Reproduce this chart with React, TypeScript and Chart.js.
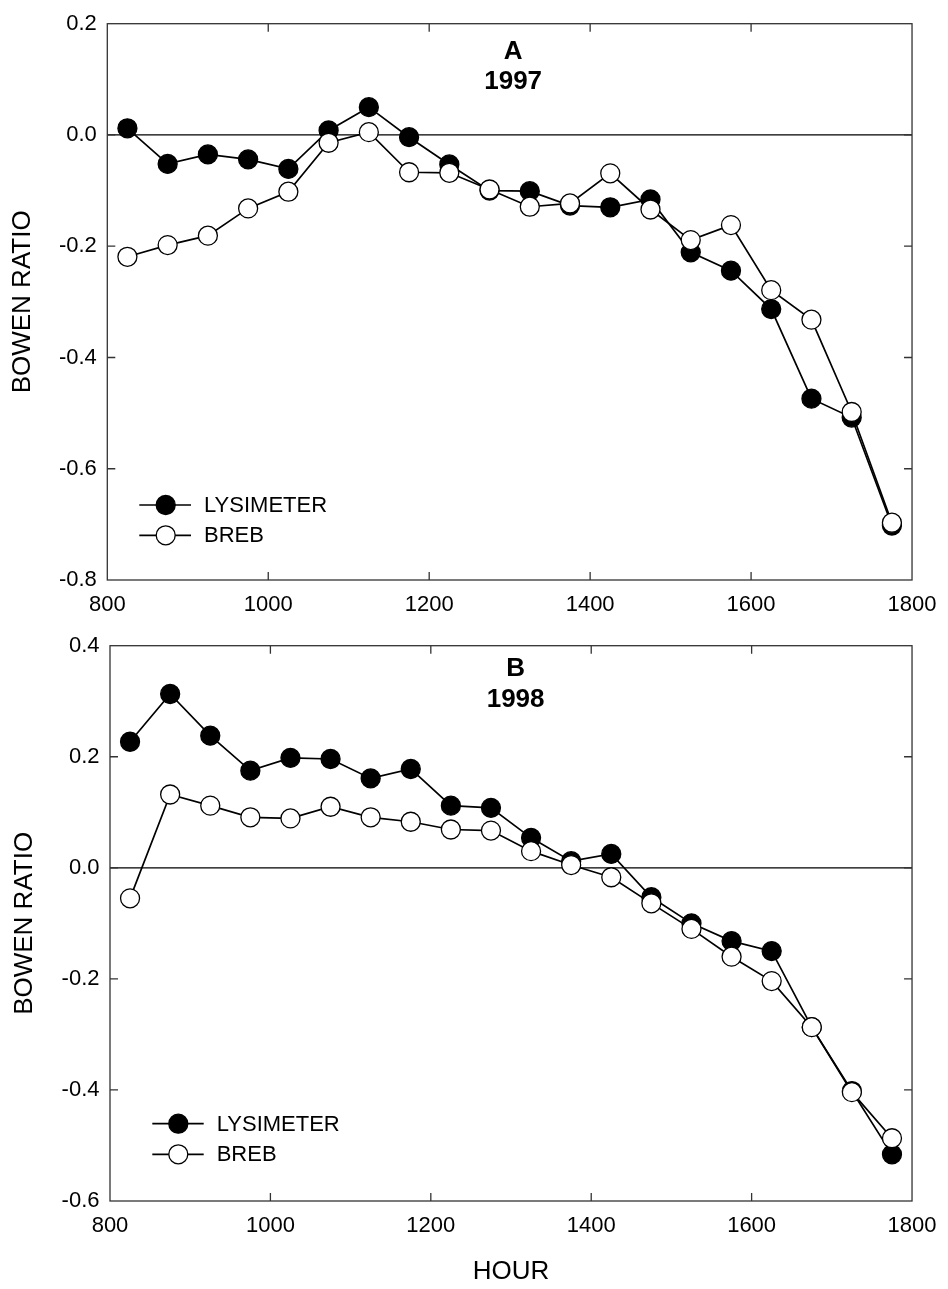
import React, { useEffect, useRef } from "react";
import { Chart, registerables } from "chart.js";

Chart.register(...registerables);

// Half-hourly midpoints (hhmm)
const hours = [825, 875, 925, 975, 1025, 1075, 1125, 1175, 1225, 1275, 1325, 1375, 1425, 1475, 1525, 1575, 1625, 1675, 1725, 1775];

// 1997 Bowen ratio
const lysimeter1997 = [0.012, -0.052, -0.035, -0.044, -0.061, 0.008, 0.05, -0.004, -0.053, -0.1, -0.101, -0.127, -0.13, -0.116, -0.211, -0.244, -0.313, -0.474, -0.508, -0.702];
const breb1997 = [-0.219, -0.198, -0.181, -0.132, -0.102, -0.014, 0.005, -0.067, -0.068, -0.098, -0.129, -0.123, -0.069, -0.134, -0.189, -0.162, -0.279, -0.332, -0.498, -0.697];

// 1998 Bowen ratio
const lysimeter1998 = [0.227, 0.313, 0.238, 0.175, 0.198, 0.196, 0.161, 0.178, 0.112, 0.108, 0.054, 0.012, 0.025, -0.053, -0.1, -0.132, -0.15, -0.287, -0.402, -0.516];
const breb1998 = [-0.055, 0.132, 0.112, 0.091, 0.089, 0.11, 0.091, 0.083, 0.069, 0.067, 0.03, 0.005, -0.017, -0.064, -0.11, -0.16, -0.204, -0.287, -0.404, -0.487];

const hourTicks = [800, 1000, 1200, 1400, 1600, 1800];
const ratioTicks1997 = [-0.8, -0.6, -0.4, -0.2, 0.0, 0.2];
const ratioTicks1998 = [-0.6, -0.4, -0.2, 0.0, 0.2, 0.4];
const seriesNames = ["LYSIMETER", "BREB"];
const panelLetters = ["A", "B"];
const panelYears = ["1997", "1998"];
const yTitle = "BOWEN RATIO";
const xTitle = "HOUR";

const FONT = "'Liberation Sans', Arial, Helvetica, sans-serif";

type Panel = {
  letter: string;
  year: string;
  lys: number[];
  breb: number[];
  yTicks: number[];
  canvasTop: number;
  canvasHeight: number;
  plot: { left: number; top: number; right: number; bottom: number };
  yTitlePad: number;
  showXTitle: boolean;
  labelDx: number;
  labelDy: [number, number];
  legend: { lineStart: number; lineEnd: number; marker: number; text: number; rows: [number, number] };
};

const panels: Panel[] = [
  {
    letter: panelLetters[0],
    year: panelYears[0],
    lys: lysimeter1997,
    breb: breb1997,
    yTicks: ratioTicks1997,
    canvasTop: 0,
    canvasHeight: 622,
    plot: { left: 107.3, top: 13.7, right: 917.7, bottom: 580 },
    yTitlePad: 7.7,
    showXTitle: false,
    labelDx: 3.5,
    labelDy: [28, 58],
    legend: { lineStart: 32, lineEnd: 83.7, marker: 58.4, text: 96.7, rows: [75, 44.7] },
  },
  {
    letter: panelLetters[1],
    year: panelYears[1],
    lys: lysimeter1998,
    breb: breb1998,
    yTicks: ratioTicks1998,
    canvasTop: 622,
    canvasHeight: 667,
    plot: { left: 110, top: 13.3, right: 920.3, bottom: 579 },
    yTitlePad: 9.4,
    showXTitle: true,
    labelDx: 4.6,
    labelDy: [22.7, 54.2],
    legend: { lineStart: 42.3, lineEnd: 93.7, marker: 68.3, text: 106.7, rows: [77.3, 46.7] },
  },
];

function BowenPanel({ panel }: { panel: Panel }) {
  const ref = useRef<HTMLCanvasElement>(null);

  useEffect(() => {
    const canvas = ref.current;
    if (!canvas) return;
    const W = 948;
    const H = panel.canvasHeight;
    const p = panel.plot;

    const decorations = {
      id: "bowenDecorations",
      beforeDatasetsDraw(chart: any) {
        const { ctx, chartArea: a, scales } = chart;
        const xs = scales.x;
        const ys = scales.y;
        ctx.save();
        // zero reference line
        const y0 = ys.getPixelForValue(0);
        ctx.strokeStyle = "#000";
        ctx.lineWidth = 1.3;
        ctx.beginPath();
        ctx.moveTo(a.left, y0);
        ctx.lineTo(a.right, y0);
        ctx.stroke();
        // box frame
        ctx.strokeStyle = "#333";
        ctx.lineWidth = 1.3;
        ctx.strokeRect(a.left, a.top, a.right - a.left, a.bottom - a.top);
        // inward tick marks on all four sides
        const len = 8;
        ctx.beginPath();
        xs.ticks.forEach((t: any) => {
          if (t.value <= xs.min || t.value >= xs.max) return;
          const px = xs.getPixelForValue(t.value);
          ctx.moveTo(px, a.bottom);
          ctx.lineTo(px, a.bottom - len);
          ctx.moveTo(px, a.top);
          ctx.lineTo(px, a.top + len);
        });
        ys.ticks.forEach((t: any) => {
          if (t.value <= ys.min || t.value >= ys.max) return;
          const py = ys.getPixelForValue(t.value);
          ctx.moveTo(a.left, py);
          ctx.lineTo(a.left + len, py);
          ctx.moveTo(a.right, py);
          ctx.lineTo(a.right - len, py);
        });
        ctx.stroke();
        ctx.restore();
      },
      afterDraw(chart: any) {
        const { ctx, chartArea: a } = chart;
        ctx.save();
        // panel label
        ctx.fillStyle = "#000";
        ctx.textAlign = "center";
        ctx.textBaseline = "middle";
        ctx.font = `bold 26px ${FONT}`;
        const cx = (a.left + a.right) / 2 + panel.labelDx;
        ctx.fillText(panel.letter, cx, a.top + panel.labelDy[0]);
        ctx.fillText(panel.year, cx, a.top + panel.labelDy[1]);
        // legend
        const lg = panel.legend;
        chart.data.datasets.forEach((ds: any, i: number) => {
          const y = a.bottom - lg.rows[i];
          ctx.strokeStyle = ds.borderColor;
          ctx.lineWidth = ds.borderWidth;
          ctx.beginPath();
          ctx.moveTo(a.left + lg.lineStart, y);
          ctx.lineTo(a.left + lg.lineEnd, y);
          ctx.stroke();
          ctx.beginPath();
          ctx.arc(a.left + lg.marker, y, ds.pointRadius, 0, Math.PI * 2);
          ctx.fillStyle = ds.pointBackgroundColor;
          ctx.fill();
          ctx.lineWidth = ds.pointBorderWidth;
          ctx.strokeStyle = ds.pointBorderColor;
          ctx.stroke();
          ctx.fillStyle = "#000";
          ctx.textAlign = "left";
          ctx.textBaseline = "middle";
          ctx.font = `22px ${FONT}`;
          ctx.fillText(ds.label, a.left + lg.text, y + 1);
        });
        ctx.restore();
      },
    };

    const common = {
      borderColor: "#000",
      borderWidth: 1.7,
      pointBorderColor: "#000",
      pointBorderWidth: 1.3,
      pointRadius: 9.5,
      pointHoverRadius: 9.5,
      tension: 0,
      fill: false,
    };

    const chart = new Chart(canvas, {
      type: "line",
      data: {
        datasets: [
          {
            ...common,
            label: seriesNames[0],
            data: hours.map((h, i) => ({ x: h, y: panel.lys[i] })),
            backgroundColor: "#000",
            pointBackgroundColor: "#000",
            order: 2,
          },
          {
            ...common,
            label: seriesNames[1],
            data: hours.map((h, i) => ({ x: h, y: panel.breb[i] })),
            backgroundColor: "#fff",
            pointBackgroundColor: "#fff",
            order: 1,
          },
        ],
      },
      options: {
        responsive: false,
        animation: false,
        devicePixelRatio: 1,
        events: [],
        layout: { padding: { top: p.top, right: W - p.right, left: 0, bottom: 0 } },
        plugins: { legend: { display: false }, tooltip: { enabled: false }, title: { display: false } },
        scales: {
          x: {
            type: "linear",
            min: 800,
            max: 1800,
            afterBuildTicks: (s: any) => {
              s.ticks = hourTicks.map((v) => ({ value: v }));
            },
            afterFit: (s: any) => {
              s.height = H - p.bottom;
            },
            grid: { display: false, drawTicks: false },
            border: { display: false },
            ticks: {
              autoSkip: false,
              maxRotation: 0,
              padding: 11.5,
              color: "#000",
              font: { family: FONT, size: 22 },
              callback: (v: any) => String(v),
            },
            title: {
              display: panel.showXTitle,
              text: xTitle,
              color: "#000",
              font: { family: FONT, size: 26 },
              padding: { top: 0, bottom: 1.2 },
            },
          },
          y: {
            type: "linear",
            min: panel.yTicks[0],
            max: panel.yTicks[panel.yTicks.length - 1],
            afterBuildTicks: (s: any) => {
              s.ticks = panel.yTicks.map((v) => ({ value: v }));
            },
            afterFit: (s: any) => {
              s.width = p.left;
            },
            grid: { display: false, drawTicks: false },
            border: { display: false },
            ticks: {
              autoSkip: false,
              padding: 10.5,
              color: "#000",
              font: { family: FONT, size: 22 },
              callback: (v: any) => (Math.abs(v) < 1e-9 ? 0 : Number(v)).toFixed(1),
            },
            title: {
              display: true,
              text: yTitle,
              color: "#000",
              font: { family: FONT, size: 26 },
              padding: { top: panel.yTitlePad, bottom: 0 },
            },
          },
        },
      } as any,
      plugins: [decorations],
    });

    return () => chart.destroy();
  }, [panel]);

  return (
    <canvas
      ref={ref}
      width={948}
      height={panel.canvasHeight}
      style={{ position: "absolute", left: 0, top: panel.canvasTop, width: 948, height: panel.canvasHeight }}
    />
  );
}

export default function App() {
  return (
    <div style={{ position: "absolute", left: 0, top: 0, width: 948, height: 1289, background: "#fff", overflow: "hidden" }}>
      {panels.map((panel) => (
        <BowenPanel key={panel.letter} panel={panel} />
      ))}
    </div>
  );
}
